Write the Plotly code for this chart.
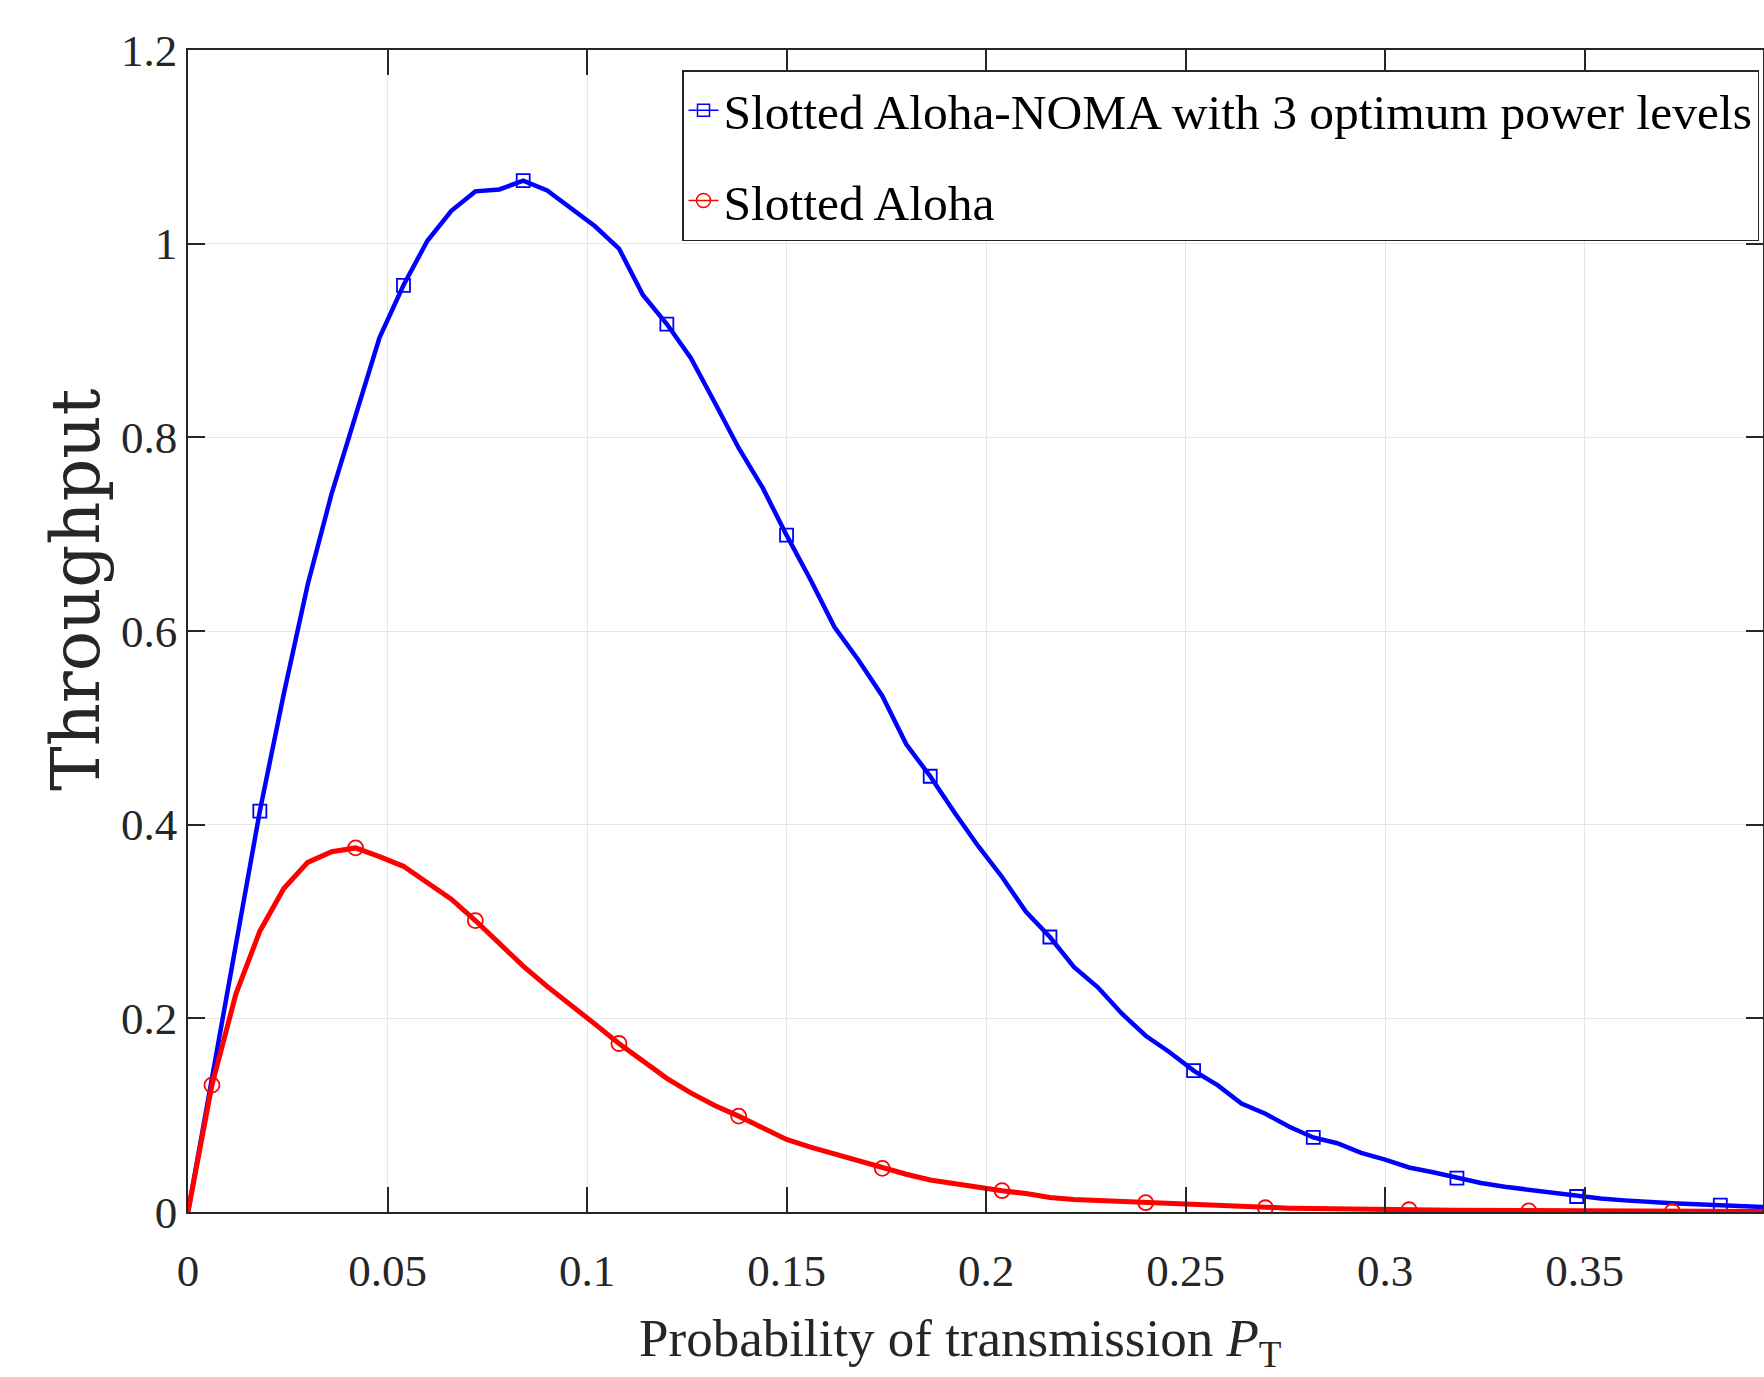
import plotly.graph_objects as go

# Probability of transmission (x grid)
p_t = [0.000, 0.006, 0.012, 0.018, 0.024, 0.030, 0.036, 0.042, 0.048, 0.054,
       0.060, 0.066, 0.072, 0.078, 0.084, 0.090, 0.096, 0.102, 0.108, 0.114,
       0.120, 0.126, 0.132, 0.138, 0.144, 0.150, 0.156, 0.162, 0.168, 0.174,
       0.180, 0.186, 0.192, 0.198, 0.204, 0.210, 0.216, 0.222, 0.228, 0.234,
       0.240, 0.246, 0.252, 0.258, 0.264, 0.270, 0.276, 0.282, 0.288, 0.294,
       0.300, 0.306, 0.312, 0.318, 0.324, 0.330, 0.336, 0.342, 0.348, 0.354,
       0.360, 0.366, 0.372, 0.378, 0.384, 0.390, 0.396, 0.402]

# Slotted Aloha-NOMA with 3 optimum power levels
noma = [0.000, 0.137, 0.276, 0.414, 0.535, 0.648, 0.742, 0.823, 0.903, 0.957,
        1.003, 1.034, 1.054, 1.056, 1.065, 1.055, 1.037, 1.018, 0.995, 0.947,
        0.917, 0.882, 0.836, 0.789, 0.748, 0.699, 0.653, 0.604, 0.570, 0.533,
        0.483, 0.450, 0.413, 0.378, 0.346, 0.310, 0.284, 0.253, 0.232, 0.205,
        0.182, 0.165, 0.146, 0.131, 0.112, 0.1015, 0.088, 0.077, 0.071, 0.061,
        0.054, 0.046, 0.041, 0.035, 0.030, 0.026, 0.023, 0.019, 0.016, 0.014,
        0.012, 0.010, 0.009, 0.008, 0.007, 0.005, 0.004, 0.004]

# Slotted Aloha
aloha = [0.000, 0.131, 0.225, 0.290, 0.334, 0.361, 0.372, 0.376, 0.367, 0.357,
         0.340, 0.323, 0.301, 0.277, 0.254, 0.233, 0.214, 0.194, 0.174, 0.156,
         0.138, 0.123, 0.110, 0.099, 0.087, 0.075, 0.067, 0.060, 0.052, 0.045,
         0.039, 0.033, 0.029, 0.026, 0.022, 0.019, 0.015, 0.013, 0.012, 0.011,
         0.0096, 0.008, 0.007, 0.006, 0.005, 0.0044, 0.004, 0.0035, 0.003, 0.0028,
         0.0025, 0.0023, 0.002, 0.0018, 0.0016, 0.0014, 0.0012, 0.001, 0.001, 0.0008,
         0.0007, 0.0006, 0.0005, 0.0005, 0.0004, 0.0004, 0.0003, 0.0003]

# indices of points carrying markers
noma_marker_idx = [3, 9, 14, 20, 25, 31, 36, 42, 47, 53, 58, 64]
aloha_marker_idx = [1, 7, 12, 18, 23, 29, 34, 40, 45, 51, 56, 62, 67]

x_tickvals = [0, 0.05, 0.1, 0.15, 0.2, 0.25, 0.3, 0.35]
x_ticktext = ["0", "0.05", "0.1", "0.15", "0.2", "0.25", "0.3", "0.35"]
y_tickvals = [0, 0.2, 0.4, 0.6, 0.8, 1.0, 1.2]
y_ticktext = ["0", "0.2", "0.4", "0.6", "0.8", "1", "1.2"]

name_noma = "Slotted Aloha-NOMA with 3 optimum power levels"
name_aloha = "Slotted Aloha"

BLUE = "#0000ff"
RED = "#ff0000"
AX = "#262626"
SERIF = "Liberation Serif, Times New Roman, serif"

W, H = 1764, 1377
L, R, T, B = 188, 1, 50, 165
PW, PH = W - L - R, H - T - B


def px_to_paper_x(px):
    return (px - L) / PW


def px_to_paper_y(py):
    return (H - B - py) / PH


fig = go.Figure()

# Blue series
fig.add_trace(go.Scatter(x=p_t, y=noma, mode="lines",
                         line=dict(color=BLUE, width=4.5),
                         showlegend=False, hoverinfo="skip"))
fig.add_trace(go.Scatter(x=[p_t[i] for i in noma_marker_idx],
                         y=[noma[i] for i in noma_marker_idx],
                         mode="markers",
                         marker=dict(symbol="square-open", size=13, color=BLUE,
                                     line=dict(width=1.8, color=BLUE)),
                         showlegend=False, hoverinfo="skip"))
# Red series
fig.add_trace(go.Scatter(x=p_t, y=aloha, mode="lines",
                         line=dict(color=RED, width=5),
                         showlegend=False, hoverinfo="skip"))
fig.add_trace(go.Scatter(x=[p_t[i] for i in aloha_marker_idx],
                         y=[aloha[i] for i in aloha_marker_idx],
                         mode="markers",
                         marker=dict(symbol="circle-open", size=15, color=RED,
                                     line=dict(width=1.8, color=RED)),
                         showlegend=False, hoverinfo="skip"))

# Legend entries
fig.add_trace(go.Scatter(x=[None], y=[None], mode="lines+markers", name=name_noma,
                         legendgroup="a",
                         line=dict(color=BLUE, width=1.5),
                         marker=dict(symbol="square-open", size=12, color=BLUE,
                                     line=dict(width=1.5, color=BLUE))))
fig.add_trace(go.Scatter(x=[None], y=[None], mode="lines+markers", name=name_aloha,
                         legendgroup="b",
                         line=dict(color=RED, width=1.5),
                         marker=dict(symbol="circle-open", size=14, color=RED,
                                     line=dict(width=1.5, color=RED))))

fig.update_xaxes(range=[0, 0.3947], tickvals=x_tickvals, ticktext=x_ticktext,
                 ticks="inside", ticklen=25, tickwidth=1.5, tickcolor=AX,
                 showline=True, linecolor=AX, linewidth=1.5, mirror="ticks",
                 showgrid=True, gridcolor="#e6e6e6", gridwidth=1, zeroline=False,
                 tickfont=dict(family=SERIF, size=45, color=AX),
                 ticklabelstandoff=18)
fig.update_yaxes(range=[0, 1.2], tickvals=y_tickvals, ticktext=y_ticktext,
                 ticks="inside", ticklen=17, tickwidth=1.5, tickcolor=AX,
                 showline=True, linecolor=AX, linewidth=1.5, mirror="ticks",
                 showgrid=True, gridcolor="#e6e6e6", gridwidth=1, zeroline=False,
                 tickfont=dict(family=SERIF, size=45, color=AX),
                 ticklabelstandoff=0)

fig.update_layout(
    width=W, height=H,
    margin=dict(l=L, r=R, t=T, b=B, autoexpand=False),
    paper_bgcolor="white", plot_bgcolor="white",
    legend=dict(x=px_to_paper_x(682), y=px_to_paper_y(70), xanchor="left", yanchor="top",
                font=dict(family=SERIF, size=49.5, color="black"),
                bgcolor="white", bordercolor=AX, borderwidth=1.5,
                tracegroupgap=23),
    annotations=[
        dict(text="Probability of transmission <i>P</i><sub>T</sub>",
             x=px_to_paper_x(960), y=px_to_paper_y(1342), xref="paper", yref="paper",
             xanchor="center", yanchor="middle", showarrow=False,
             font=dict(family=SERIF, size=53, color=AX)),
        dict(text="Throughput", textangle=-90,
             x=px_to_paper_x(76), y=px_to_paper_y(590), xref="paper", yref="paper",
             xanchor="center", yanchor="middle", showarrow=False,
             font=dict(family="DejaVu Serif, serif", size=67, color=AX)),
    ],
)

fig.write_html("out.html", include_plotlyjs=True,
               config={"displayModeBar": False},
               post_script="document.body.style.margin='0';document.body.style.overflow='hidden';")
